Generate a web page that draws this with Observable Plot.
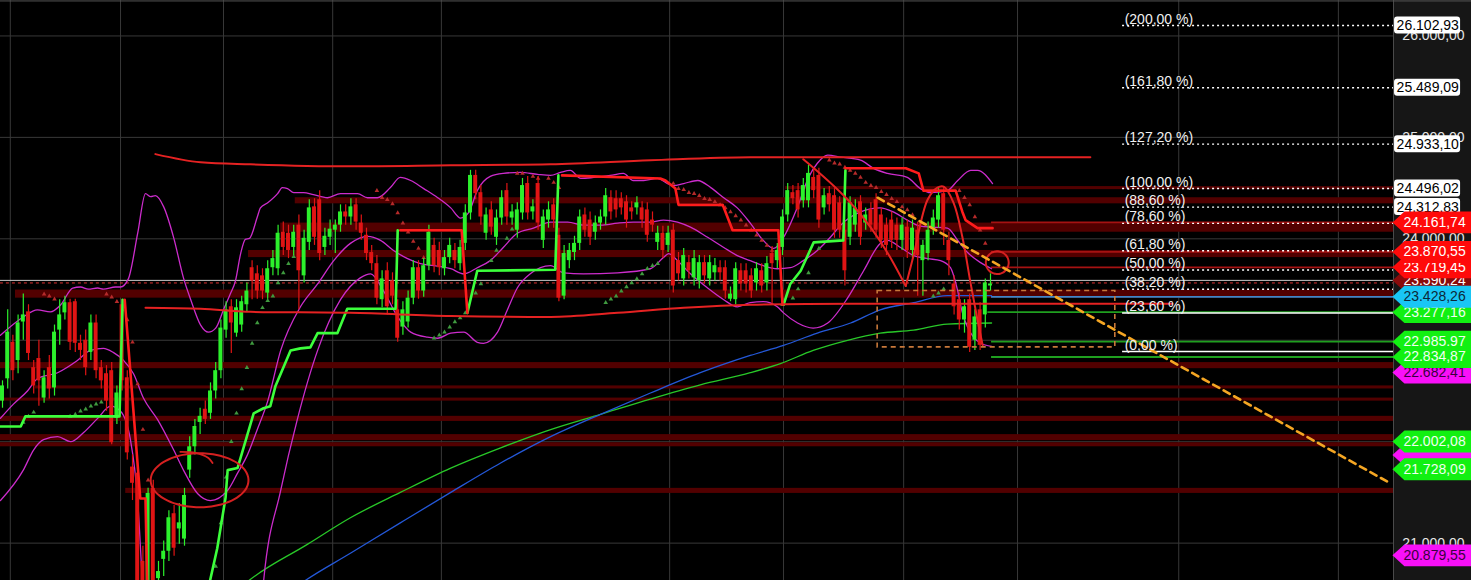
<!DOCTYPE html>
<html><head><meta charset="utf-8">
<script src="https://cdn.jsdelivr.net/npm/d3@7"></script>
<script src="https://cdn.jsdelivr.net/npm/@observablehq/plot@0.6"></script>
<style>
html,body{margin:0;padding:0;background:#000;overflow:hidden}
#chart svg{display:block}
</style></head><body><div id="chart"></div>
<script>
// ---------- DATA (bar index, price) ----------
const candleOpen = [
22400,22620,22980,22800,23180,23280,22730,22820,22430,22730,
22530,23100,23270,23370,23380,22970,23000,22880,23170,22730,
22670,22700,22230,23350,22630,21750,21690,20820,20420,21540,
20650,20840,20920,21290,21140,21040,21720,21950,22190,22320,
22280,22500,22700,23100,23330,23070,23150,23350,23715,23655,
23635,23465,23715,23705,24065,24055,23915,24135,23635,23965,
24315,24385,23915,24015,24085,24135,24265,24215,24335,24155,
24035,23865,23755,23400,23685,23585,23300,23130,23180,23415,
23715,23485,23735,23935,23885,23705,23815,23885,23755,23955,
24255,24625,24455,24055,24285,24015,24205,24475,24205,24085,
24255,24545,24265,24545,23985,24185,24335,24035,23435,23785,
23865,23955,24235,24185,24065,24155,24215,24405,24395,24395,
24365,24305,24305,24305,24285,24185,23965,24055,23935,24085,
23785,23605,23765,23615,23585,23765,23605,23665,23715,23715,
23405,23400,23685,23685,23635,23565,23685,23565,23855,23785,
23915,24235,24455,24475,24375,24375,24605,24625,24305,24445,
24425,24355,24085,24015,24135,24365,24155,24285,24385,24235,
24135,24185,24135,23985,24115,23885,24085,23785,23855,24105,
24185,24445,23985,23555,23400,23200,23400,23000,23300,23250,
23535];
const candleClose = [
22550,23080,22700,23170,23250,22870,22550,22600,22630,22520,
23080,23250,23370,22980,22970,22900,22730,23170,22700,22600,
22400,21990,22480,22600,21890,21590,20620,20420,21490,20620,
20720,20920,21250,20950,21200,21470,21950,22150,22250,22220,
22500,22700,23120,23300,23170,23320,23380,23485,23585,23485,
23485,23705,23805,24055,23915,23885,24065,23685,24005,24305,
24015,23855,24025,24095,24135,24265,24215,24315,24165,24055,
23855,23755,23415,23605,23330,23435,23020,23300,23415,23715,
23485,23735,24065,23735,23715,23815,23935,23785,23915,24255,
24625,24445,24215,24235,24115,24205,24405,24215,24265,24285,
24525,24255,24315,24155,24215,24285,24185,23415,23855,23885,
23955,24215,24085,24015,24155,24215,24425,24265,24285,24305,
24185,24265,24355,24185,24035,24135,24055,23885,24055,23535,
23655,23835,23685,23805,23765,23635,23765,23735,23665,23485,
23455,23705,23555,23555,23485,23705,23535,23755,23755,23885,
24215,24475,24395,24285,24525,24645,24475,24185,24425,24335,
24085,24085,23685,24355,24305,24015,24235,24135,24085,23985,
23935,23985,23985,24135,23885,24105,23835,23935,24085,24205,
24425,24085,23785,23330,23200,23330,22930,23230,22950,23565,
23555];
const candleHigh = [
22600,23300,23050,23250,23455,23350,22800,23000,22700,22850,
23150,23400,23435,23405,23405,23050,23100,23250,23250,22800,
22750,22780,22550,23405,22700,21870,21740,20970,21540,21620,
20820,21020,21320,21370,21390,21540,22050,22220,22330,22400,
22580,22780,23200,23380,23400,23400,23435,23565,23785,23735,
23705,23785,23885,24135,24165,24135,24135,24235,24085,24385,
24395,24475,24105,24185,24185,24335,24335,24395,24395,24235,
24105,23935,23835,23685,23765,23665,23400,23380,23485,23785,
23785,23805,24135,24005,23965,23885,24005,23955,23985,24335,
24675,24675,24525,24305,24365,24285,24475,24545,24335,24355,
24595,24615,24385,24615,24285,24365,24395,24105,23935,23955,
24025,24285,24305,24265,24225,24285,24495,24475,24475,24455,
24425,24365,24415,24365,24355,24265,24125,24125,24125,24145,
23865,23905,23835,23885,23835,23835,23835,23805,23785,23785,
23525,23765,23755,23755,23705,23765,23755,23825,23925,23955,
24285,24545,24525,24545,24595,24725,24695,24695,24495,24515,
24495,24415,24165,24415,24385,24425,24305,24355,24445,24305,
24205,24265,24205,24205,24185,24185,24165,23985,24165,24285,
24495,24515,24065,23635,23465,23400,23455,23300,23370,23605,
23655];
const candleLow = [
22330,22520,22600,22670,23000,22800,22470,22350,22380,22420,
22450,22950,23200,22900,22880,22800,22650,22800,22620,22520,
22300,21970,22170,22500,21820,21420,20420,20320,20370,20420,
20520,20670,20820,20870,20990,20970,21640,21870,22070,22170,
22220,22420,22620,23020,22870,23030,23080,23280,23400,23405,
23400,23405,23635,23635,23835,23805,23835,23300,23565,23885,
23935,23785,23835,23935,23855,24065,24135,24135,24085,23985,
23785,23685,23350,23320,23250,23350,22980,23050,23120,23350,
23405,23425,23685,23665,23635,23635,23755,23705,23685,23885,
24185,24385,24135,23985,24035,23935,24135,24135,24135,24005,
24185,24185,24185,24085,23905,24105,24105,23380,23400,23705,
23785,23885,24015,23935,23985,24085,24135,24185,24205,24235,
24105,24185,24235,24105,23965,24065,23885,23805,23865,23465,
23585,23535,23605,23535,23505,23555,23535,23585,23585,23405,
23380,23350,23485,23465,23415,23485,23465,23485,23350,23705,
23835,24165,24335,24205,24305,24305,24395,24105,24235,24265,
24005,24005,23535,23935,24065,23935,24085,24065,24005,23905,
23835,23905,23885,23885,23805,23805,23435,23435,23785,24035,
24105,23935,23635,23250,23100,23070,22880,22900,22900,23120,
23485];

// Bollinger bands [bar, price]
const bbUpper = [[-0.4,23050],[4,23230],[6.7,23300],[9.2,23280],[11.2,23350],[13.5,23515],[15,23525],[16.5,23505],[18.3,23515],[19.4,23505],[21.7,23525],[22.7,23525],[24.2,23605],[26,24055],[27.5,24445],[28.5,24415],[29.4,24425],[31,24315],[32.9,24015],[34.8,23615],[36.2,23400],[38.1,23150],[39.6,23080],[41,23120],[42.5,23300],[43.8,23455],[44.8,23585],[45.8,23855],[46.7,23995],[47.5,24005],[49,24215],[49.6,24305],[51,24355],[52.9,24445],[53.8,24505],[54.8,24495],[56,24455],[57.9,24455],[59.8,24435],[62.5,24405],[65,24445],[68.3,24445],[70.2,24405],[72.1,24405],[74.6,24505],[76.5,24605],[78.5,24575],[81,24495],[83.7,24405],[86.2,24305],[88.1,24205],[89.6,24255],[91.3,24475],[93.8,24615],[96.3,24645],[99.6,24655],[102.9,24635],[105.4,24625],[107.3,24655],[109.2,24675],[111.2,24595],[113.7,24605],[116.9,24625],[119.4,24645],[121.3,24575],[123.3,24575],[126,24595],[127.9,24545],[129,24525],[131,24545],[133.7,24575],[136.2,24505],[138.7,24405],[141.3,24305],[143.8,24155],[146.3,23985],[148.3,23905],[150.2,24015],[152.9,24315],[155,24605],[156.7,24745],[158.7,24825],[161.2,24805],[165,24775],[167.5,24695],[170.2,24645],[174,24605],[176.5,24495],[178.5,24455],[181.7,24475],[183.7,24575],[186.2,24675],[187.5,24675],[190.4,24545]];
const bbMiddle = [[-0.4,22230],[2.1,22370],[4.8,22500],[6.7,22620],[10.6,22680],[14.4,22800],[16.9,22900],[19.4,22920],[21.3,22880],[23.3,22800],[25.2,22670],[27.1,22430],[29.8,22220],[32.9,21920],[34.8,21720],[37.5,21490],[40,21420],[43.3,21520],[45.2,21690],[47.1,21870],[49,22120],[51,22400],[53.5,22900],[57.3,23330],[60.6,23555],[63.7,23785],[66.9,23955],[70.2,24025],[72.7,23985],[75.2,23885],[77.9,23805],[80.4,23755],[82.9,23735],[86.2,23705],[88.7,23655],[91.3,23715],[93.8,23785],[96.3,23915],[99,24055],[102.1,24105],[105.4,24165],[108.7,24165],[111.7,24135],[115,24135],[118.3,24155],[121.3,24165],[124.6,24165],[127.1,24185],[129.8,24165],[132.3,24115],[135.6,24015],[138.7,23915],[141.3,23835],[143.8,23785],[146.3,23735],[149,23705],[151.5,23715],[154,23785],[156.7,23885],[159.2,24015],[161.2,24135],[165,24265],[168.8,24305],[171.3,24265],[174,24185],[176.5,24125],[179,24115],[181.7,24105],[183.7,23985],[185.6,23865],[188.1,23765],[190.2,23705]];
const bbLower = [[-0.4,21420],[4,21720],[6,21920],[7.9,22020],[10.6,22050],[13.1,22000],[15.6,22090],[18.3,22230],[20.8,22350],[22.7,22300],[24.6,22020],[26,21420],[26.9,20620],[27.7,20020],[49.2,20020],[50.2,20620],[53.5,21520],[56.7,22220],[60.6,22900],[65,23400],[68.8,23615],[70.8,23655],[73.3,23485],[76,23230],[78.5,23080],[81.7,23030],[83.7,23020],[86.2,23070],[88.7,23080],[91.3,22980],[92.5,22970],[95.2,23080],[97.1,23300],[99,23515],[101.5,23655],[105.4,23735],[107.9,23665],[111.7,23655],[118.3,23665],[124.6,23705],[127.1,23815],[128.1,23855],[129.8,23785],[132.3,23655],[135.6,23515],[138.7,23400],[141.3,23330],[143.8,23370],[146.3,23380],[149,23330],[150.2,23270],[152.9,23170],[155.9,23120],[158.7,23170],[162.5,23415],[165.6,23685],[168.8,23955],[170.2,23985],[172.7,23915],[175.2,23835],[177.9,23805],[180.4,23785],[182.3,23715],[183.7,23485],[184.6,23270],[185.6,23130],[188.1,22970],[190.2,22940]];

// moving averages
const maBlue = [[51.5,20370],[57.9,20620],[66.9,20900],[76.5,21200],[86.2,21500],[95.8,21790],[105.4,22050],[115,22270],[124.6,22480],[134.2,22680],[143.8,22850],[150.2,22950],[156.7,23070],[163.1,23170],[168.8,23300],[175.2,23370],[181.7,23440],[190.2,23440]];
const maGreen = [[44.8,20520],[47.1,20620],[58.7,20990],[66.9,21250],[76.5,21500],[86.2,21740],[95.8,21940],[105.4,22120],[115,22270],[124.6,22420],[134.2,22560],[143.8,22680],[149.6,22770],[155.9,22900],[162.5,23000],[168.8,23070],[175.2,23100],[181.7,23160],[190.2,23170]];

// supertrend segments
const stUp = [
 [[-0.4,22150],[3.5,22150],[4.4,22250],[22.5,22250],[23.1,23400]],
 [[39,20420],[41.3,20950],[42.9,21450],[43.3,21720],[45.2,21740],[48.3,22280],[50.2,22330],[51.5,22350],[52.5,22550],[55.4,22900],[57.3,22920],[59.2,22930],[60.6,23070],[64.4,23070],[66.3,23310],[75.6,23310],[76,24085]],
 [[89.4,23270],[91.3,23685],[106.3,23695],[106.9,24625]],
 [[150.2,23350],[151.5,23555],[153.5,23685],[156,23965],[161.7,23985],[162.1,24675]]
];
const stDown = [
 [[23.5,23400],[26.5,21440],[27.5,21440],[27.9,20420]],
 [[76.5,24085],[88.3,24085],[89.4,23270]],
 [[107.6,24625],[126.5,24595],[127.5,24575],[129.4,24495],[130,24335],[138.5,24335],[140.4,24085],[149.2,24085],[150,23350]],
 [[162.1,24695],[173.7,24695],[176.2,24645],[177.1,24475],[183.3,24475],[184.6,24265],[185.2,24185],[187.5,24105],[190.4,24105]]
];

// parabolic SAR
const sarUp = [[4,22190],[5,22250],[6,22290],[13,22250],[14,22270],[15,22300],[16,22320],[17,22350],[18,22370],[19,22390],[41,20770],[42,21200],[43,21650],[44,22000],[45,22280],[46,22520],[47,22730],[48,22970],[49,23170],[50,23320],[51,23390],[52,23435],[53,23565],[54,23665],[55,23755],[56,23825],[83,23020],[84,23050],[85,23080],[86,23130],[87,23180],[88,23220],[89,23270],[91,23465],[92,23555],[94,23785],[95,23885],[97,24005],[98,24095],[116,23370],[117,23405],[118,23435],[119,23485],[120,23525],[121,23565],[122,23605],[123,23655],[124,23705],[125,23735],[126,23755],[150,23350],[152,23415],[153,23505],[155,23665],[157,23905],[179,23435],[180,23465],[181,23505]];
const sarDown = [[8,23455],[9,23435],[10,23405],[20,23455],[21,23425],[22,23380],[23,23300],[24,23200],[25,22980],[26,22570],[27,22120],[28,21620],[72,24475],[73,24405],[74,24385],[75,24345],[76,24255],[77,24155],[78,24065],[79,23975],[80,23905],[81,23815],[99,24645],[100,24645],[102,24615],[103,24595],[105,24595],[106,24555],[107,24505],[129,24545],[130,24495],[131,24485],[132,24455],[133,24445],[134,24425],[135,24395],[136,24385],[137,24365],[138,24335],[139,24305],[140,24265],[141,24225],[142,24185],[143,24135],[144,24085],[145,24035],[146,23985],[147,23935],[148,23885],[159,24775],[160,24745],[161,24735],[162,24705],[163,24675],[164,24645],[165,24605],[166,24555],[167,24525],[168,24505],[169,24465],[170,24435],[171,24395],[172,24365],[173,24315],[174,24285],[175,24235],[184,24475],[185,24405],[186,24335],[187,24215],[188,24085],[189,23955]];

// support / resistance zones: [low, high, start bar]
const zones = [[24485,24515,150.6],[24345,24405,56.3],[24065,24155,53.5],[23815,23885,47.3],[23415,23495,2.5],[22720,22780,-0.4],[22520,22550,6.3],[22400,22430,-0.4],[22200,22250,-0.4],[22010,22070,-0.4],[21950,21990,-0.4],[21490,21540,23.7]];

// hand-drawn channel and trend lines
const channelTop = [[29.4,24835],[38.1,24755],[47.7,24735],[66.9,24715],[86.2,24725],[105.4,24735],[124.6,24775],[143.8,24805],[209.2,24805]];
const channelBottom = [[27.5,23320],[38.1,23310],[47.7,23280],[66.9,23270],[86.2,23240],[105.4,23230],[118.3,23270],[131,23320],[143.8,23350],[163.1,23360],[190.2,23360],[225,23360]];
const drawnLine = [[154,24785],[171.3,23765],[173.7,23535]];
const drawnCurve = [[173.7,23535],[175.2,23835],[177.9,24385],[179.8,24505],[181,24515],[182.9,24355],[184.6,24015],[186.2,23555],[187.5,23200],[188.5,22950]];
const circleNotes = [{cx:37.9, cy:21620, rx:9.4, ry:266}, {cx:191.3, cy:23765, rx:2.2, ry:112}];
const circleTail = [[34.2,21900],[37.1,21890],[39.6,21840],[40.4,21790]];
const trendDashed = [[168.3,24405],[266.9,21590]];
const boxDashed = {x1:168.3, x2:214.0, y1:22930, y2:23485};

// Fibonacci levels
const fibPct = [0, 23.6, 38.2, 50, 61.8, 78.6, 88.6, 100, 127.2, 161.8, 200];
const fibValues = [22889.11, 23268.34, 23502.95, 23692.57, 23882.19, 24152.15, 24312.83, 24496.02, 24933.10, 25489.09, 26102.93];
const fibStart = 215.4;

// level extensions and price tags
const levelValues = [24161.74, 23870.55, 23719.45, 23428.26, 23277.16, 22985.97, 22834.87];
const levelKinds = ["res","res","res","ma","sup","sup","sup"];
const currentPrice = 23590.24;
const stopPrice = 23565;
const tagValues = [23590.24, 23277.16, 23428.26, 23719.45, 23870.55, 24161.74, 22985.97, 22682.41, 22834.87, 21870.00, 22002.08, 21728.09, 20879.55];
const tagKinds  = ["darkred","green","cyan","red","red","red","green","magenta","green","magenta","green","green","magenta"];
const tagHidden = [false,false,false,false,false,false,false,false,false,true,false,false,false];
const whiteTagValues = [26102.93, 25489.09, 24933.10, 24496.02, 24312.83];
const yTicks = [21000, 22000, 23000, 24000, 25000, 26000];
const gridBars = [1.5, 22.7, 42.5, 63.5, 84.4, 128.3, 150.2, 173.3, 195.2, 226.2, 256.9];

// ---------- BUILD ----------
const loc = d3.formatLocale({decimal: ",", thousands: ".", grouping: [3], currency: ["", ""]});
const fmtPrice = loc.format(",.2f");
const fmtPct = loc.format(".2f");

const candles = candleOpen.map((o, i) => ({i, open: o, close: candleClose[i], high: candleHigh[i], low: candleLow[i], up: candleClose[i] >= o}));
const PLOT_END = 267.5, X_MAX = 282.5;
const FONT = "Liberation Sans, Arial, sans-serif";
const tagStyle = {
  red: {bg: "#ff0a0a", fg: "#ffffff"},
  darkred: {bg: "#8a0b0b", fg: "#ffffff"},
  cyan: {bg: "#19c6f5", fg: "#0c2838"},
  green: {bg: "#12f012", fg: "#f0fff0"},
  magenta: {bg: "#f810f8", fg: "#3a003e"}
};
const levelStyle = {res: {c: "#a51212"}, ma: {c: "#3f86c8"}, sup: {c: "#1f9f1f"}};
const H = 108; // half tag height in price units

const xy = {x: d => d[0], y: d => d[1]};
const ellipse = e => d3.range(-20, 381, 6).map(a => [e.cx + e.rx * Math.cos(a * Math.PI / 180), e.cy - e.ry * Math.sin(a * Math.PI / 180)]);

const tagMarks = [];
tagValues.forEach((v, k) => {
  const s = tagStyle[tagKinds[k]];
  const poly = [[267.3, v], [269.6, v + H], [X_MAX + 1, v + H], [X_MAX + 1, v - H], [269.6, v - H]];
  tagMarks.push(Plot.line(poly, {...xy, fill: s.bg, stroke: "none", curve: "linear-closed"}));
  if (!tagHidden[k]) tagMarks.push(Plot.text([v], {x: () => 269.4, y: d => d, text: d => fmtPrice(d), fill: s.fg, fontSize: 14, fontFamily: FONT, textAnchor: "start"}));
});

const chart = Plot.plot({
  width: 1471, height: 580, margin: 0,
  style: {background: "#000", fontFamily: FONT},
  x: {domain: [-0.3846, X_MAX], axis: null},
  y: {domain: [20631.7, 26349.4], axis: null},
  marks: [
    Plot.rect([0], {x1: PLOT_END, x2: X_MAX + 1, y1: 20600, y2: 26400, fill: "#161616"}),
    Plot.ruleY(yTicks, {x1: -0.4, x2: PLOT_END, stroke: "#383838", strokeWidth: 1}),
    Plot.ruleX(gridBars, {y1: 20600, y2: 26400, stroke: "#383838", strokeWidth: 1}),
    Plot.rect(zones, {x1: d => d[2], x2: PLOT_END, y1: d => d[0], y2: d => d[1], fill: "#520000"}),
    Plot.ruleY([currentPrice], {x1: -0.4, x2: PLOT_END, stroke: "#c8c8c8", strokeWidth: 1}),
    Plot.ruleY([stopPrice], {x1: -0.4, x2: PLOT_END, stroke: "#e03030", strokeWidth: 1, strokeDasharray: "3,3"}),
    Plot.ruleY(levelValues, {x1: (d, i) => i === 4 ? 189.5 : 190.2, x2: PLOT_END, stroke: (d, i) => levelStyle[levelKinds[i]].c, strokeWidth: 1.8}),
    Plot.ruleY(fibValues, {filter: (d, i) => fibPct[i] !== 0 && fibPct[i] !== 23.6, x1: fibStart, x2: PLOT_END, stroke: "#ffffff", strokeWidth: 1.4, strokeDasharray: "2,3"}),
    Plot.ruleY(fibValues, {filter: (d, i) => fibPct[i] === 0 || fibPct[i] === 23.6, x1: fibStart, x2: PLOT_END, stroke: "#ffffff", strokeWidth: 1.4}),
    Plot.line(maGreen, {...xy, stroke: "#28c828", strokeWidth: 1.3, curve: "monotone-x", clip: true}),
    Plot.line(maBlue, {...xy, stroke: "#2458d8", strokeWidth: 1.3, curve: "monotone-x", clip: true}),
    Plot.line(bbUpper, {...xy, stroke: "#cc2ccc", strokeWidth: 1.3, curve: "monotone-x", clip: true}),
    Plot.line(bbMiddle, {...xy, stroke: "#cc2ccc", strokeWidth: 1.3, curve: "monotone-x", clip: true}),
    Plot.line(bbLower, {...xy, stroke: "#cc2ccc", strokeWidth: 1.3, curve: "monotone-x", clip: true}),
    Plot.dot(sarUp, {...xy, symbol: "triangle", r: 1.7, fill: "#3f9a3f", stroke: "none"}),
    Plot.dot(sarDown, {...xy, symbol: "triangle", r: 1.7, fill: "#b52a2a", stroke: "none"}),
    Plot.ruleX(candles, {x: "i", y1: "low", y2: "high", stroke: d => d.up ? "#2cf02c" : "#e01414", strokeWidth: 1.2, clip: true}),
    Plot.rect(candles, {x1: d => d.i - 0.38, x2: d => d.i + 0.38, y1: "open", y2: "close", fill: d => d.up ? "#2cf02c" : "#e01414", clip: true}),
    ...stUp.map(seg => Plot.line(seg, {...xy, stroke: "#3cff3c", strokeWidth: 2.6, clip: true})),
    ...stDown.map(seg => Plot.line(seg, {...xy, stroke: "#ff1c1c", strokeWidth: 2.6, clip: true})),
    Plot.line(channelTop, {...xy, stroke: "#e52222", strokeWidth: 2, curve: "monotone-x"}),
    Plot.line(channelBottom, {...xy, stroke: "#e52222", strokeWidth: 2, curve: "monotone-x"}),
    Plot.line(drawnLine, {...xy, stroke: "#e52222", strokeWidth: 2, curve: "monotone-x"}),
    Plot.line(drawnCurve, {...xy, stroke: "#e52222", strokeWidth: 2, curve: "catmull-rom"}),
    ...circleNotes.map(e => Plot.line(ellipse(e), {...xy, stroke: "#d42020", strokeWidth: 2, curve: "catmull-rom"})),
    Plot.line(circleTail, {...xy, stroke: "#d42020", strokeWidth: 1.8, curve: "catmull-rom"}),
    Plot.rect([boxDashed], {x1: "x1", x2: "x2", y1: "y1", y2: "y2", fill: "none", stroke: "#c8783a", strokeWidth: 1.6, strokeDasharray: "5,4"}),
    Plot.line(trendDashed, {...xy, stroke: "#f5a623", strokeWidth: 2.6, strokeDasharray: "7,5"}),
    Plot.text(fibValues, {x: () => fibStart + 0.4, y: d => d, text: (d, i) => "(" + fmtPct(fibPct[i]) + " %)", fill: "#f0f0f0", fontSize: 14, fontFamily: FONT, textAnchor: "start", lineAnchor: "bottom", dy: -2}),
    Plot.ruleX([PLOT_END], {y1: 20600, y2: 26400, stroke: "#4a4a4a", strokeWidth: 1}),
    Plot.ruleY([26345], {x1: -0.4, x2: X_MAX + 1, stroke: "#555", strokeWidth: 1}),
    Plot.text(yTicks, {x: () => 269.2, y: d => d, text: d => fmtPrice(d), fill: "#e6e6e6", fontSize: 14, fontFamily: FONT, textAnchor: "start"}),
    Plot.rect(whiteTagValues, {x1: () => 267.7, x2: () => 280.4, y1: d => d - 84, y2: d => d + 84, fill: "#ffffff", rx: 3}),
    Plot.text(whiteTagValues, {x: () => 268.1, y: d => d, text: d => fmtPrice(d), fill: "#000", fontSize: 14, fontFamily: FONT, textAnchor: "start"}),
    ...tagMarks
  ]
});
document.getElementById("chart").appendChild(chart);
</script></body></html>
